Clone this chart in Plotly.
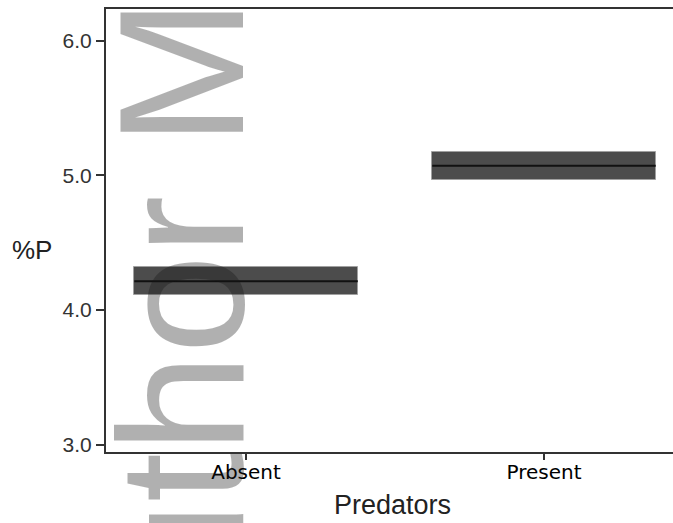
import plotly.graph_objects as go

categories = ["Absent", "Present"]
means = [4.213, 5.071]
lower = [4.109, 4.962]
upper = [4.320, 5.176]
y_ticks = [3.0, 4.0, 5.0, 6.0]
y_tick_labels = ["3.0", "4.0", "5.0", "6.0"]
watermark = "Author Manuscript"

box_w = 0.75

fig = go.Figure()
fig.add_trace(go.Bar(
    x=categories,
    y=[u - l for u, l in zip(upper, lower)],
    base=lower,
    width=box_w,
    marker=dict(color="rgba(0,0,0,0.70)", line=dict(color="rgba(160,160,160,0.9)", width=1)),
    hoverinfo="skip",
    showlegend=False,
))
for i, m in enumerate(means):
    fig.add_shape(type="line", xref="x", yref="y",
                  x0=i - box_w / 2, x1=i + box_w / 2, y0=m, y1=m,
                  line=dict(color="#111111", width=2))

axis_col = "#333333"
fig.update_layout(
    width=673, height=523,
    margin=dict(l=106, r=0, t=9, b=71),
    paper_bgcolor="white", plot_bgcolor="white",
    bargap=0,
    xaxis=dict(
        type="category", range=[-0.47, 1.433],
        showline=True, linecolor=axis_col, linewidth=2, mirror=True,
        ticks="outside", ticklen=6, tickwidth=1.5, tickcolor=axis_col,
        ticklabelstandoff=-5,
        showgrid=False, zeroline=False,
        tickfont=dict(family="DejaVu Sans", size=20, color="black"),
    ),
    yaxis=dict(
        range=[2.945, 6.236],
        tickvals=y_ticks, ticktext=y_tick_labels,
        showline=True, linecolor=axis_col, linewidth=2, mirror=False,
        ticks="outside", ticklen=8, tickwidth=1.5, tickcolor=axis_col,
        showgrid=False, zeroline=False,
        tickfont=dict(family="Liberation Sans", size=21, color="#333333"),
    ),
    annotations=[
        dict(text="%P", xref="paper", yref="paper", x=-0.1305, y=0.457,
             xanchor="center", yanchor="middle", showarrow=False,
             font=dict(family="Liberation Sans", size=26, color="#222222")),
        dict(text="Predators", xref="paper", yref="paper", x=0.506, y=-0.1196,
             xanchor="center", yanchor="middle", showarrow=False,
             font=dict(family="Liberation Sans", size=27, color="#222222")),
        dict(text=watermark, xref="paper", yref="paper", x=0.1323, y=1.0248,
             xanchor="center", yanchor="middle", showarrow=False, textangle=-90,
             font=dict(family="Liberation Sans", size=178, color="rgba(21,21,21,0.337)")),
    ],
)

fig.write_html("out.html")
